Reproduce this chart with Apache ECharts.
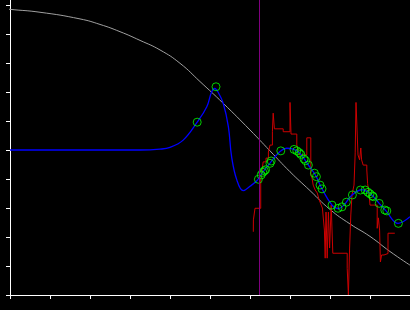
<!DOCTYPE html>
<html>
<head>
<meta charset="utf-8">
<script src="https://cdn.jsdelivr.net/npm/echarts@6/dist/echarts.min.js"></script>
<style>
html,body{margin:0;padding:0;background:#000;}
#c{width:410px;height:310px;}
</style>
</head>
<body>
<div id="c"></div>
<script>
// x positions / values
var xTicks = [0,1,2,3,4,5,6,7,8,9,10];
var yTicks = [-5,-4,-3,-2,-1,0,1,2,3,4,5];

var greyX = [-0.25,0,0.75,1.75,2.25,2.75,3.25,3.75,4.25,4.75,5.33,6,6.5,7,7.5,8,8.5,9,9.5,10];
var greyY = [4.89,4.85,4.75,4.52,4.33,4.08,3.78,3.45,2.99,2.36,1.61,0.69,-0.03,-0.75,-1.4,-2.05,-2.55,-2.98,-3.5,-3.97];

var blueX = [0,1,2,3,3.25,3.75,4.0,4.33,4.68,4.92,5.04,5.12,5.2,5.33,5.46,5.54,5.67,5.83,6.0,6.17,6.3,6.5,6.75,6.92,7.1,7.25,7.45,7.65,7.8,8.05,8.2,8.35,8.55,8.8,9.0,9.23,9.4,9.7,10];
var blueY = [0,0,0,0,0,0.03,0.09,0.34,0.96,1.49,2.0,2.12,2.0,1.61,0.80,-0.23,-1.03,-1.40,-1.25,-1.06,-0.8,-0.45,-0.05,0.06,0.02,-0.12,-0.5,-0.9,-1.34,-1.9,-2.02,-1.9,-1.55,-1.37,-1.5,-1.84,-2.1,-2.53,-2.30];

var greenX = [4.68,5.15,6.21,6.28,6.32,6.36,6.39,6.5,6.53,6.77,7.1,7.17,7.23,7.27,7.35,7.39,7.46,7.61,7.66,7.75,7.8,8.05,8.2,8.3,8.41,8.56,8.76,8.88,8.95,9.0,9.06,9.08,9.23,9.37,9.42,9.71];
var greenY = [0.96,2.18,-1.01,-0.86,-0.77,-0.72,-0.68,-0.46,-0.38,-0.03,0.02,-0.03,-0.09,-0.15,-0.31,-0.37,-0.52,-0.80,-0.92,-1.21,-1.34,-1.90,-2.01,-1.96,-1.80,-1.55,-1.38,-1.38,-1.46,-1.51,-1.58,-1.61,-1.84,-2.07,-2.10,-2.53];

var redX = [6.083,6.085,6.125,6.268,6.29,6.33,6.40,6.46,6.5,6.56,6.58,6.61,6.83,7.0,7.025,7.17,7.2,7.23,7.42,7.52,7.55,7.58,7.63,7.68,7.73,7.78,7.81,7.86,7.88,7.9,7.93,7.96,7.99,8.03,8.07,8.43,8.46,8.49,8.52,8.55,8.6,8.63,8.65,8.7,8.74,8.77,8.79,8.83,8.92,8.94,8.98,9.0,9.18,9.21,9.24,9.26,9.29,9.35,9.45,9.62];
var redY = [-2.82,-2.41,-2.01,-1.03,-0.79,-0.41,-0.28,-0.07,0.17,0.63,1.27,0.73,0.63,1.64,0.55,0.17,0,-0.17,0.42,-0.86,-0.97,-1.21,-1.38,-1.48,-1.72,-1.90,-2.0,-2.76,-3.73,-2.14,-3.73,-2.14,-3.38,-1.90,-3.56,-4.08,-5.0,-3.38,-2.24,-1.55,-1.21,-0.1,1.64,-0.17,-0.34,0.07,-0.34,-0.52,-0.69,-1.15,-1.55,-1.90,-2.70,-2.34,-2.76,-3.86,-3.62,-3.57,-2.87,-2.87];

var vlineX = 6.23;

function zip(a,b){ return a.map(function(v,i){ return [v,b[i]]; }); }

var chart = echarts.init(document.getElementById('c'), null, {renderer:'canvas'});
chart.setOption({
  animation:false,
  backgroundColor:'#000',
  grid:{left:10,right:0,top:0,bottom:15,containLabel:false},
  xAxis:{type:'value',min:xTicks[0],max:xTicks[xTicks.length-1],interval:1,
    axisLine:{show:true,onZero:false,lineStyle:{color:'#fff',width:1}},
    axisTick:{show:true,length:4,lineStyle:{color:'#fff',width:1}},
    axisLabel:{show:false},splitLine:{show:false}},
  yAxis:{type:'value',min:-5,max:150/29,interval:1,
    axisLine:{show:true,onZero:false,lineStyle:{color:'#fff',width:1}},
    axisTick:{show:true,length:4,customValues:yTicks,lineStyle:{color:'#fff',width:1}},
    axisLabel:{show:false},splitLine:{show:false}},
  series:[
    {type:'line',data:zip(greyX,greyY),smooth:true,showSymbol:false,clip:false,
     lineStyle:{color:'#a0a0a0',width:1},z:1,
     markLine:{silent:true,symbol:['none','none'],label:{show:false},
       lineStyle:{color:'#800080',width:1,type:'solid'},data:[{xAxis:vlineX}]}},
    {type:'line',data:zip(redX,redY),step:'end',showSymbol:false,
     lineStyle:{color:'#cc0000',width:1},z:2},
    {type:'line',data:zip(blueX,blueY),smooth:0.4,showSymbol:false,
     lineStyle:{color:'#0000ff',width:1.3},z:3},
    {type:'scatter',data:zip(greenX,greenY),symbol:'circle',symbolSize:8,
     itemStyle:{color:'rgba(0,0,0,0)',borderColor:'#00ff00',borderWidth:1},z:4}
  ]
});
</script>
</body>
</html>
